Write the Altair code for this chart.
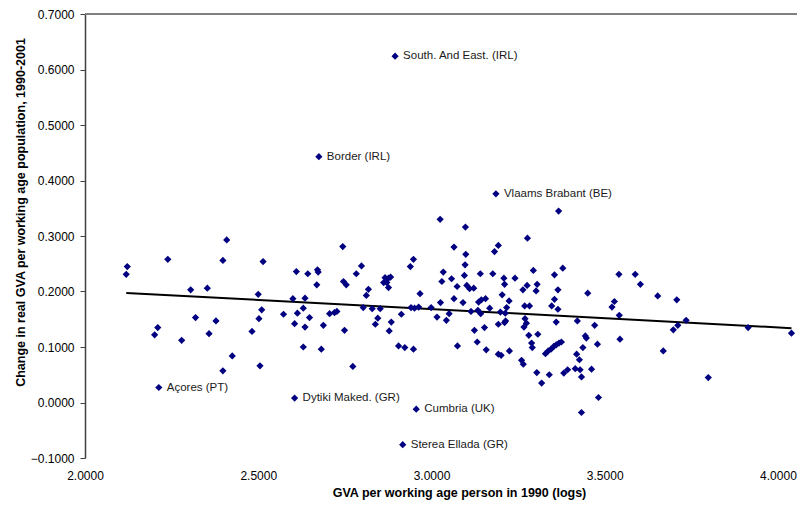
import altair as alt
import pandas as pd

# GVA per working age person in 1990 (logs) -- unlabelled regions
gva_1990 = [
    2.122, 2.119, 2.239, 2.409, 2.398, 2.305, 2.353, 2.500, 2.319, 2.378, 2.210, 2.201, 2.279, 2.358, 2.482, 2.502, 2.425, 2.398, 2.505,
    2.514, 2.610, 2.510, 2.573, 2.613, 2.605, 2.600, 2.744, 2.643, 2.671, 2.673, 2.669, 2.798, 2.783, 2.746, 2.754, 2.818, 2.812, 2.635,
    2.630, 2.648, 2.635, 2.688, 2.706, 2.720, 2.727, 2.749, 2.803, 2.829, 2.845, 2.838, 2.630, 2.682, 2.773, 2.852,
    3.025, 3.098, 3.065, 3.099, 2.948, 2.939, 3.097, 3.034, 3.141, 3.095, 3.058, 3.030, 2.862, 2.866, 2.876, 2.882, 2.871, 2.876, 3.102,
    3.110, 3.122, 3.074, 2.967, 3.065, 3.091, 3.026, 3.136, 3.144, 3.156, 2.941, 2.951, 2.963, 2.999, 2.913, 3.016, 3.051, 3.114, 3.134,
    3.142, 3.168, 2.884, 3.043, 3.153, 3.124, 2.878, 3.132, 3.158, 2.905, 2.923, 2.948, 3.075,
    3.193, 3.182, 3.177, 3.193, 3.193,
    3.367, 3.277, 3.294, 3.209, 3.211, 3.241, 3.276, 3.264, 3.305, 3.302, 3.355, 3.379, 3.365, 3.451, 3.541, 3.204, 3.224, 3.217, 3.269,
    3.283, 3.347, 3.355, 3.365, 3.528, 3.521, 3.542, 3.199, 3.213, 3.211, 3.214, 3.270, 3.274, 3.267, 3.360, 3.421, 3.471, 3.281, 3.307,
    3.289, 3.291, 3.225, 3.201, 3.329, 3.337, 3.345, 3.353, 3.360, 3.368, 3.375, 3.444, 3.447, 3.437, 3.479, 3.419, 3.427, 3.260, 3.265,
    3.304, 3.318, 3.340, 3.382, 3.393, 3.415, 3.429, 3.433, 3.462, 3.482, 3.433,
    3.588, 3.603, 3.653, 3.708, 3.544, 3.669, 3.735, 3.711, 3.698, 3.914, 4.039, 3.799,
]

# Change in real GVA per working age population, 1990-2001
gva_change = [
    0.245, 0.231, 0.258, 0.293, 0.256, 0.203, 0.206, 0.195, 0.153, 0.147, 0.135, 0.122, 0.112, 0.124, 0.128, 0.151, 0.084, 0.057, 0.066,
    0.254, 0.236, 0.167, 0.159, 0.161, 0.142, 0.187, 0.281, 0.232, 0.239, 0.235, 0.212, 0.246, 0.232, 0.218, 0.212, 0.204, 0.193, 0.188,
    0.170, 0.153, 0.136, 0.139, 0.160, 0.162, 0.164, 0.130, 0.171, 0.169, 0.152, 0.141, 0.100, 0.096, 0.065, 0.169,
    0.330, 0.316, 0.280, 0.267, 0.258, 0.245, 0.248, 0.235, 0.232, 0.229, 0.223, 0.218, 0.216, 0.225, 0.224, 0.226, 0.216, 0.207, 0.211,
    0.205, 0.206, 0.209, 0.196, 0.187, 0.180, 0.180, 0.181, 0.185, 0.187, 0.171, 0.170, 0.172, 0.171, 0.159, 0.154, 0.160, 0.164, 0.166,
    0.160, 0.170, 0.145, 0.148, 0.135, 0.130, 0.129, 0.109, 0.095, 0.102, 0.099, 0.096, 0.102,
    0.283, 0.272, 0.232, 0.141, 0.087,
    0.345, 0.296, 0.238, 0.224, 0.213, 0.224, 0.211, 0.203, 0.213, 0.201, 0.230, 0.242, 0.203, 0.197, 0.231, 0.194, 0.183, 0.171, 0.174,
    0.174, 0.174, 0.186, 0.168, 0.182, 0.172, 0.157, 0.163, 0.161, 0.144, 0.147, 0.151, 0.143, 0.136, 0.145, 0.147, 0.139, 0.121, 0.123,
    0.107, 0.099, 0.093, 0.085, 0.088, 0.093, 0.096, 0.101, 0.104, 0.107, 0.109, 0.120, 0.116, 0.099, 0.105, 0.087, 0.077, 0.076, 0.069,
    0.054, 0.035, 0.050, 0.053, 0.059, 0.061, 0.059, 0.046, 0.060, 0.009, -0.018,
    0.231, 0.213, 0.192, 0.185, 0.114, 0.093, 0.148, 0.139, 0.131, 0.135, 0.125, 0.045,
]

# Labelled regions
label_names = ["South. And East. (IRL)", "Border (IRL)", "Vlaams Brabant (BE)", "Açores (PT)",
               "Dytiki Maked. (GR)", "Cumbria (UK)", "Sterea Ellada (GR)"]
label_x = [2.895, 2.675, 3.186, 2.213, 2.605, 2.956, 2.917]
label_y = [0.624, 0.443, 0.376, 0.027, 0.008, -0.012, -0.076]

# Linear trend line end points
trend_x = [2.119, 4.039]
trend_y = [0.1975, 0.134]

x_ticks = [2.0, 2.5, 3.0, 3.5, 4.0]
y_ticks = [-0.1, 0.0, 0.1, 0.2, 0.3, 0.4, 0.5, 0.6, 0.7]

assert len(gva_1990) == len(gva_change)

points = pd.DataFrame({"x": gva_1990 + label_x, "y": gva_change + label_y})
labels = pd.DataFrame({"name": label_names, "x": label_x, "y": label_y})
trend = pd.DataFrame({"x": trend_x, "y": trend_y})

FONT = "Liberation Sans"
xscale = alt.Scale(domain=[2.0, 4.055], nice=False, zero=False)
yscale = alt.Scale(domain=[-0.1, 0.7], nice=False, zero=False)

xaxis = alt.Axis(
    values=x_ticks, format=".4f", grid=False, domain=False, ticks=False,
    labelPadding=12, labelFontSize=12, labelFont=FONT, labelColor="#000000",
    labelFlush=False, labelOverlap=False,
    title="GVA per working age person in 1990 (logs)", titleFont=FONT,
    titleFontSize=12.5, titleFontWeight="bold", titleColor="#000000",
    titleX=374, titleY=28, titleBaseline="top", titleAlign="center",
)
yaxis = alt.Axis(
    values=y_ticks, format=".4f", grid=False, domainColor="#404040", domainWidth=1.5,
    tickColor="#404040", tickSize=5, tickWidth=1, labelPadding=6, labelFontSize=12,
    labelFont=FONT, labelColor="#000000", labelFlush=False, labelOverlap=False,
    title="Change in real GVA per working age population, 1990-2001", titleFont=FONT,
    titleFontSize=12.5, titleFontWeight="bold", titleColor="#000000",
    titleX=-65, titleY=198, titleBaseline="middle", titleAlign="center",
)

top_border = alt.Chart(points).mark_rule(color="#808080", strokeWidth=1).encode(
    y=alt.datum(0.7, scale=yscale)
)

trend_line = alt.Chart(trend).mark_line(color="#000000", strokeWidth=2).encode(
    x=alt.X("x:Q", scale=xscale, axis=xaxis),
    y=alt.Y("y:Q", scale=yscale, axis=yaxis),
)

dots = alt.Chart(points).mark_point(
    shape="diamond", filled=True, size=52, color="#000080", opacity=1
).encode(
    x=alt.X("x:Q", scale=xscale, axis=xaxis),
    y=alt.Y("y:Q", scale=yscale, axis=yaxis),
)

texts = alt.Chart(labels).mark_text(
    align="left", baseline="middle", dx=8, fontSize=11.5, font=FONT, color="#1a1a1a"
).encode(
    x=alt.X("x:Q", scale=xscale, axis=xaxis),
    y=alt.Y("y:Q", scale=yscale, axis=yaxis),
    text="name:N",
)

chart = alt.layer(top_border, trend_line, dots, texts).properties(
    width=712, height=444,
    autosize=alt.AutoSizeParams(type="none"),
    padding={"left": 77, "top": 6, "right": 0, "bottom": 42},
).configure_view(stroke=None)

chart.save("out.html", embed_options={"renderer": "svg", "actions": False})
